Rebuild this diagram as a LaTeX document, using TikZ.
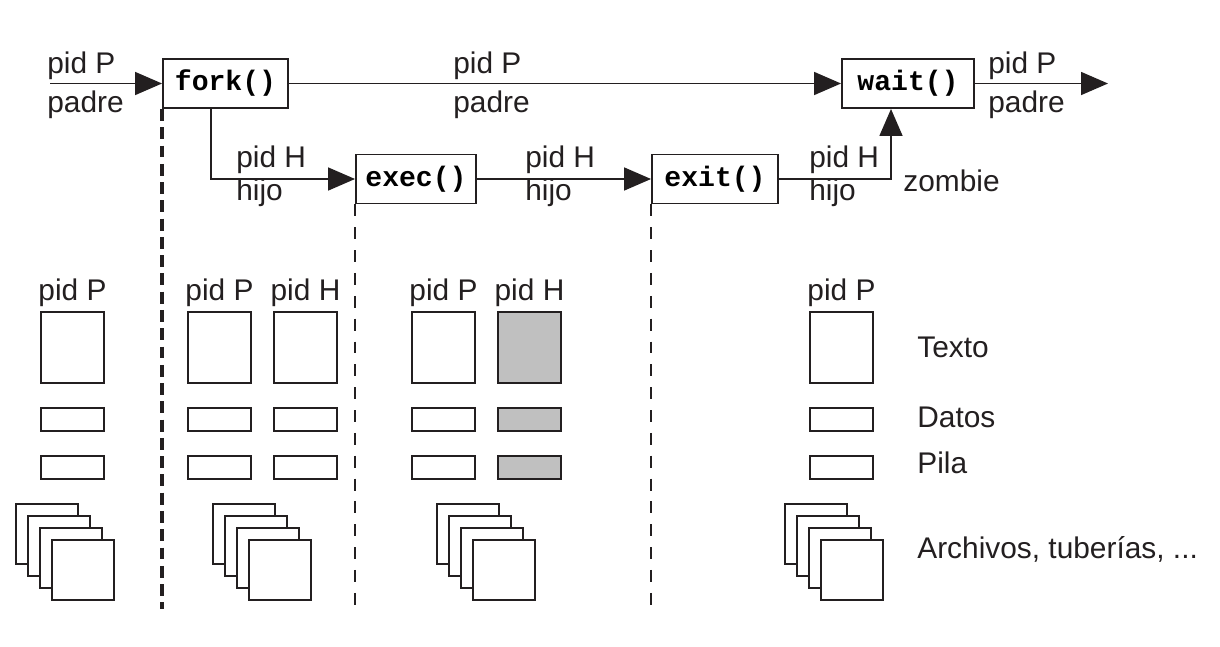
\documentclass[tikz,border=0pt]{standalone}
\usepackage{fontspec}
\setmainfont{Liberation Sans}
\newfontfamily\codefont{Liberation Mono}
\usetikzlibrary{arrows.meta}
\definecolor{segGray}{RGB}{192,192,192}
\definecolor{inkBlack}{RGB}{35,31,32}

\tikzset{
  callbox/.style={draw=inkBlack, line width=1.1pt, fill=white, inner sep=0pt,
    minimum height=0.98cm, font=\codefont\bfseries\fontsize{16}{18}\selectfont},
  flow/.style={draw=inkBlack, line width=0.9pt,
    -{Triangle[length=0.54cm,width=0.46cm]}},
  lbl/.style={anchor=base west, inner sep=0pt, text=inkBlack,
    font=\fontsize{17}{20}\selectfont},
  hdr/.style={lbl, anchor=base},
  seg/.style={draw=inkBlack, line width=1.1pt},
  cutthick/.style={draw=inkBlack, line width=2.3pt, dash pattern=on 6.8pt off 3.6pt},
  cutthin/.style={draw=inkBlack, line width=1.1pt, dash pattern=on 6.8pt off 6.2pt}
}

\begin{document}
\begin{tikzpicture}[x=0.02cm,y=-0.02cm]
  \useasboundingbox (0,0) rectangle (1220,646);

  % system calls
  \node[callbox, minimum width=2.50cm] (fork) at (225.5,83.5) {fork()};
  \node[callbox, minimum width=2.40cm] (exec) at (416,179) {exec()};
  \node[callbox, minimum width=2.52cm] (exit) at (715,179) {exit()};
  \node[callbox, minimum width=2.64cm] (wait) at (908,83.5) {wait()};
  \coordinate (inP) at (50,83.5);
  \coordinate (outP) at (1108,83.5);

  % flow of the processes
  \draw[flow] (inP) -- (fork);
  \draw[flow] (fork) -- (wait);
  \draw[flow] ([xshift=-0.29cm]fork.south) |- (exec.west);
  \draw[flow] (exec) -- (exit);
  \draw[flow] (exit.east) -| ([xshift=-0.34cm]wait.south);
  \draw[flow] (wait) -- (outP);

  % labels on the lines
  \node[lbl] (inPid)   at (47,73)   {pid P};
  \node[lbl] (inRole)  at (47,112)  {padre};
  \node[lbl] (topPid)  at (453,73)  {pid P};
  \node[lbl] (topRole) at (453,112) {padre};
  \node[lbl] (forkPid)  at (236,167) {pid H};
  \node[lbl] (forkRole) at (236,200) {hijo};
  \node[lbl] (execPid)  at (525,167) {pid H};
  \node[lbl] (execRole) at (525,200) {hijo};
  \node[lbl] (exitPid)  at (809,167) {pid H};
  \node[lbl] (exitRole) at (809,200) {hijo};
  \node[lbl] (zombie)   at (903,191) {zombie};
  \node[lbl] (outPid)  at (988,73)  {pid P};
  \node[lbl] (outRole) at (988,112) {padre};

  % cuts between the stages
  \draw[cutthick] (fork.south west) -- ++(0,500);
  \draw[cutthin] (exec.south west) -- ++(0,407);
  \draw[cutthin] (exit.south west) -- ++(0,407);

  % memory images: text, data, stack
  \foreach \cx/\pname/\fc in {41/pid P/white, 188/pid P/white, 274/pid H/white,
                             412/pid P/white, 498/pid H/segGray, 810/pid P/white} {
    \node[hdr] (hdr-\cx) at (\cx+31.5,300) {\pname};
    \draw[seg, fill=\fc] (\cx,312) rectangle ++(63,71);
    \draw[seg, fill=\fc] (\cx,408) rectangle ++(63,23);
    \draw[seg, fill=\fc] (\cx,456) rectangle ++(63,23);
  }

  % open files
  \foreach \sx in {16,213,437,785}
    \foreach \k in {0,...,3}
      \draw[seg, fill=white] (\sx+12*\k,504+12*\k) rectangle ++(62,60);

  % legend
  \node[lbl] (legText)  at (917,357) {Texto};
  \node[lbl] (legData)  at (917,427) {Datos};
  \node[lbl] (legStack) at (917,473) {Pila};
  \node[lbl] (legFiles) at (917,558) {Archivos, tuberías, ...};
\end{tikzpicture}
\end{document}
